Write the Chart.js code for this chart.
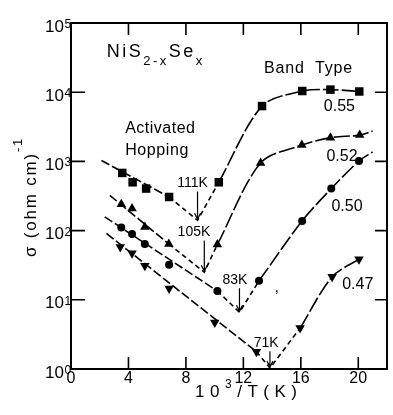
<!DOCTYPE html>
<html>
<head>
<meta charset="utf-8">
<script src="https://cdn.jsdelivr.net/npm/chart.js@4.4.0/dist/chart.umd.min.js"></script>
<style>
  html, body { margin: 0; padding: 0; background: #fff; }
  #chart { display: block; }
</style>
</head>
<body>
<canvas id="chart" width="393" height="415"></canvas>
<script>
// NiS(2-x)Se(x) conductivity vs 10^3/T
const compositions = ['0.55', '0.52', '0.50', '0.47'];

const x055 = [3.57, 4.29, 5.23, 6.83, 10.29, 13.3, 16.1, 18.06, 20.07];
const y055 = [681, 499, 405, 306, 499, 6300, 10400, 10900, 10240];

const x052 = [3.5, 4.25, 5.14, 6.81, 10.19, 13.2, 16.07, 18.06, 20.1];
const y052 = [240, 208, 113, 64, 63, 948, 1725, 2205, 2400];

const x050 = [3.5, 4.25, 5.14, 6.83, 10.19, 13.09, 16.09, 18.12, 20.05];
const y050 = [111, 89, 64, 32, 13.4, 18.8, 138, 405, 1013];

const x047 = [3.43, 4.25, 5.14, 6.83, 10.01, 12.91, 15.95, 18.18, 20.05];
const y047 = [58, 47, 31, 14.6, 4.7, 1.78, 3.9, 21.5, 38.7];

// hopping fit lines start here and run to the last hopping point
const hopStartX = [2.12, 2.7, 2.35, 2.47];
const hopStartY = [1030, 324, 158, 91];
const hopEndIndex = [3, 3, 4, 5];

// bottom of each dashed cusp (transition temperatures)
const cuspLabels = ['111K', '105K', '83K', '71K'];
const cuspX = [8.81, 9.28, 11.73, 13.85];
const cuspY = [141, 25, 6.6, 1.03];

// band curves that run on past the last point
const bandEndX = [null, 21.0, 21.0, null];
const bandEndY = [null, 2740, 1370, null];

const xTicks = [0, 4, 8, 12, 16, 20];
const yTicks = [1, 10, 100, 1000, 10000, 100000];

const seriesX = [x055, x052, x050, x047];
const seriesY = [y055, y052, y050, y047];

const FONT = "'Liberation Sans', Arial, sans-serif";
const markers = [
    { style: 'rect', radius: 6, rotation: 0 },
    { style: 'triangle', radius: 5.5, rotation: 0 },
    { style: 'circle', radius: 4, rotation: 0 },
    { style: 'triangle', radius: 5.5, rotation: 180 },
];

function pts(xs, ys) {
    return xs.map((x, i) => ({ x: x, y: ys[i] }));
}

function lineSet(data, dash, tension) {
    return {
        data: data,
        showLine: true,
        borderColor: '#000',
        borderWidth: 1.6,
        borderDash: dash,
        pointRadius: 0,
        tension: tension,
        order: 1,
    };
}

const datasets = [];
compositions.forEach((c, i) => {
    const xs = seriesX[i], ys = seriesY[i], k = hopEndIndex[i];
    datasets.push({
        label: c,
        data: pts(xs, ys),
        pointStyle: markers[i].style,
        pointRadius: markers[i].radius,
        pointRotation: markers[i].rotation,
        backgroundColor: '#000',
        borderWidth: 0,
        order: 0,
    });
    datasets.push(lineSet([{ x: hopStartX[i], y: hopStartY[i] }, { x: xs[k], y: ys[k] }], [9, 3], 0));
    datasets.push(lineSet([{ x: xs[k], y: ys[k] }, { x: cuspX[i], y: cuspY[i] }, { x: xs[k + 1], y: ys[k + 1] }], [5, 3.5], 0));
    const band = pts(xs.slice(k + 1), ys.slice(k + 1));
    if (bandEndX[i] !== null) band.push({ x: bandEndX[i], y: bandEndY[i] });
    datasets.push(lineSet(band, [16, 3], 0.3));
});

// text placed in data coordinates
const notes = [
    { text: 'Activated', x: 3.77, y: 2972, size: 16, spacing: 0.5 },
    { text: 'Hopping', x: 3.77, y: 1413, size: 16, spacing: 0.6 },
    { text: 'Band  Type', x: 13.44, y: 21830, size: 16, spacing: 0.8 },
    { text: '0.55', x: 17.6, y: 6240, size: 16, spacing: 0 },
    { text: '0.52', x: 17.78, y: 1157, size: 16, spacing: 0 },
    { text: '0.50', x: 18.13, y: 220, size: 16, spacing: 0 },
    { text: '0.47', x: 18.88, y: 16.7, size: 16, spacing: 0 },
    { text: ',', x: 14.17, y: 15.1, size: 16, spacing: 0 },
];
const cuspNotes = [
    { x: 8.46, y: 478 },
    { x: 8.56, y: 94 },
    { x: 11.41, y: 19.2 },
    { x: 13.59, y: 2.35 },
];

function drawRich(ctx, parts, x, y, spacing) {
    ctx.letterSpacing = spacing + 'px';
    let cx = x;
    parts.forEach(p => {
        ctx.font = p.size + 'px ' + FONT;
        ctx.fillText(p.text, cx, y + (p.dy || 0));
        cx += ctx.measureText(p.text).width;
    });
    return cx - x;
}

function richWidth(ctx, parts, spacing) {
    ctx.letterSpacing = spacing + 'px';
    let w = 0;
    parts.forEach(p => {
        ctx.font = p.size + 'px ' + FONT;
        w += ctx.measureText(p.text).width;
    });
    return w;
}

const decorate = {
    id: 'decorate',
    afterDraw(chart) {
        const ctx = chart.ctx;
        const a = chart.chartArea;
        const sx = chart.scales.x, sy = chart.scales.y;
        ctx.save();
        ctx.strokeStyle = '#000';
        ctx.fillStyle = '#000';

        // frame
        ctx.lineWidth = 2;
        ctx.strokeRect(a.left, a.top, a.right - a.left, a.bottom - a.top);

        // inward ticks on all four sides
        ctx.lineWidth = 1.6;
        ctx.beginPath();
        xTicks.slice(1).forEach(v => {
            const px = sx.getPixelForValue(v);
            ctx.moveTo(px, a.bottom); ctx.lineTo(px, a.bottom - 12);
            ctx.moveTo(px, a.top); ctx.lineTo(px, a.top + 12);
        });
        yTicks.slice(1, -1).forEach(v => {
            const py = sy.getPixelForValue(v);
            ctx.moveTo(a.left, py); ctx.lineTo(a.left + 14, py);
            ctx.moveTo(a.right, py); ctx.lineTo(a.right - 12, py);
        });
        ctx.stroke();

        // y tick labels 10^n
        ctx.textBaseline = 'alphabetic';
        yTicks.forEach(v => {
            const py = sy.getPixelForValue(v);
            const n = Math.round(Math.log10(v));
            ctx.letterSpacing = '0px';
            ctx.textAlign = 'right';
            ctx.font = '17px ' + FONT;
            ctx.fillText('10', a.left - 7, py + 8.5);
            ctx.textAlign = 'left';
            ctx.font = '12px ' + FONT;
            ctx.fillText(String(n), a.left - 6.5, py + 5);
        });

        // free text
        ctx.textAlign = 'left';
        ctx.textBaseline = 'middle';
        notes.forEach(n => {
            ctx.letterSpacing = n.spacing + 'px';
            ctx.font = n.size + 'px ' + FONT;
            ctx.fillText(n.text, sx.getPixelForValue(n.x), sy.getPixelForValue(n.y));
        });

        // transition temperature labels with arrows to cusp
        ctx.letterSpacing = '0px';
        ctx.textAlign = 'center';
        ctx.font = '14px ' + FONT;
        ctx.lineWidth = 1.2;
        cuspLabels.forEach((t, i) => {
            const lx = sx.getPixelForValue(cuspNotes[i].x);
            const ly = sy.getPixelForValue(cuspNotes[i].y);
            ctx.fillText(t, lx, ly);
            const tx = sx.getPixelForValue(cuspX[i]);
            const ty = sy.getPixelForValue(cuspY[i]) - 1;
            ctx.beginPath();
            ctx.moveTo(tx, ly + 8); ctx.lineTo(tx, ty);
            ctx.moveTo(tx - 3, ty - 6); ctx.lineTo(tx, ty); ctx.lineTo(tx + 3, ty - 6);
            ctx.stroke();
        });

        // compound name
        ctx.textAlign = 'left';
        ctx.textBaseline = 'alphabetic';
        drawRich(ctx, [
            { text: 'Ni', size: 18 },
            { text: 'S', size: 18 },
            { text: '2-x', size: 13, dy: 8 },
            { text: 'Se', size: 18 },
            { text: 'x', size: 13, dy: 8 },
        ], sx.getPixelForValue(2.49), a.top + 34, 2.5);

        // x axis title
        const xt = [
            { text: '10', size: 17 },
            { text: '3', size: 12, dy: -9 },
            { text: '/T(K)', size: 17 },
        ];
        drawRich(ctx, xt, sx.getPixelForValue(8.64), a.bottom + 28, 5.5);

        // y axis title, rotated
        const yt = [
            { text: 'σ (ohm cm)', size: 17 },
            { text: '-1', size: 13, dy: -14 },
        ];
        const w = richWidth(ctx, yt, 1.8);
        ctx.translate(a.left - 35.5, 197);
        ctx.rotate(-Math.PI / 2);
        drawRich(ctx, yt, -w / 2, 0, 1.8);
        ctx.restore();
    }
};

new Chart(document.getElementById('chart').getContext('2d'), {
    type: 'scatter',
    data: { datasets: datasets },
    options: {
        responsive: false,
        animation: false,
        devicePixelRatio: 1,
        layout: { padding: { top: 23, right: 1, left: 0, bottom: 0 } },
        plugins: { legend: { display: false }, tooltip: { enabled: false } },
        scales: {
            x: {
                type: 'linear',
                min: 0,
                max: 22,
                afterBuildTicks: s => { s.ticks = xTicks.map(v => ({ value: v })); },
                afterFit: s => { s.height = 46; },
                grid: { display: false, drawTicks: false },
                border: { display: false },
                ticks: { color: '#000', padding: 0, font: { size: 16, family: FONT } },
            },
            y: {
                type: 'logarithmic',
                min: 1,
                max: 100000,
                afterBuildTicks: s => { s.ticks = yTicks.map(v => ({ value: v })); },
                afterFit: s => { s.width = 71; },
                grid: { display: false, drawTicks: false },
                border: { display: false },
                ticks: { display: false },
            },
        },
    },
    plugins: [decorate],
});
</script>
</body>
</html>
